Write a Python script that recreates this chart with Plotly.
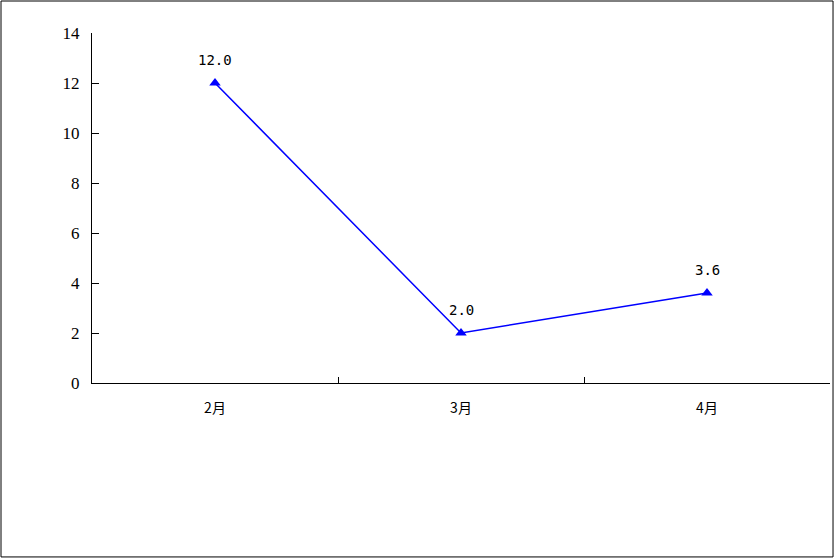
import plotly.graph_objects as go

# 数据
months = ["2月", "3月", "4月"]
values = [12.0, 2.0, 3.6]
labels = ["12.0", "2.0", "3.6"]

fig = go.Figure()

fig.add_trace(go.Scatter(
    x=months, y=values,
    mode="lines+markers",
    line=dict(color="#0000FF", width=1.5),
    marker=dict(symbol="triangle-up", size=10, color="#0000FF"),
    cliponaxis=False,
    showlegend=False,
))

# 数据标签
for m, v, t in zip(months, values, labels):
    fig.add_annotation(x=m, y=v, text=t, showarrow=False, yshift=23,
                       font=dict(family="DejaVu Sans Mono", size=14, color="black"))

# 外框
fig.add_shape(type="rect", xref="paper", yref="paper",
              x0=-0.1233, x1=1.0041, y0=-0.497, y1=1.0914,
              line=dict(color="black", width=1))

fig.update_xaxes(
    type="category", range=[-0.5, 2.5],
    showline=True, linecolor="black", linewidth=1,
    ticks="inside", ticklen=6, tickcolor="black", tickson="boundaries",
    showgrid=False, zeroline=False,
    tickfont=dict(family="Noto Sans CJK SC", size=14, color="black"),
    ticklabelstandoff=12,
)
fig.update_yaxes(
    range=[0, 14], dtick=2,
    showline=True, linecolor="black", linewidth=1,
    ticks="inside", ticklen=7, tickcolor="black",
    showgrid=False, zeroline=False,
    tickfont=dict(family="Liberation Serif", size=17, color="black"),
    ticklabelstandoff=8,
)

fig.update_layout(
    width=834, height=558,
    margin=dict(l=92, r=4, t=33, b=175),
    plot_bgcolor="white", paper_bgcolor="white",
)

fig.write_html("out.html", config={"displayModeBar": False},
               post_script="document.body.style.margin='0';")
